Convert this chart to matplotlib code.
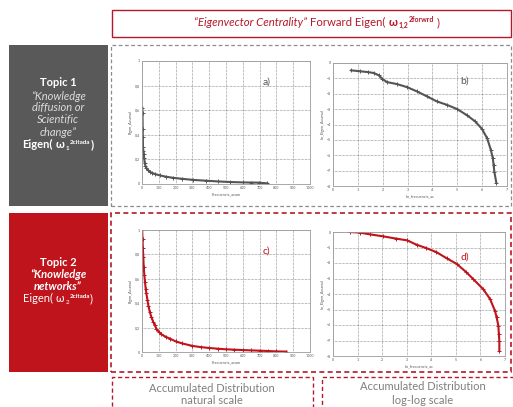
import matplotlib
matplotlib.use("Agg")
import matplotlib.pyplot as plt
from matplotlib.patches import Rectangle

# ── Data ────────────────────────────────────────────────────────────────────
a_x = [2, 3, 4, 5, 6, 8, 10, 13, 16, 20, 26, 34, 46, 60, 80, 106, 140, 186,
       240, 306, 380, 450, 526, 600, 650, 696, 746]
a_y = [0.62, 0.58, 0.45, 0.38, 0.30, 0.27, 0.24, 0.21, 0.17, 0.15, 0.13, 0.115,
       0.10, 0.09, 0.08, 0.07, 0.06, 0.05, 0.042, 0.033, 0.027, 0.021, 0.016,
       0.013, 0.012, 0.011, 0.005]

b_x = [0.74, 1.1, 1.4, 1.64, 1.84, 1.97, 2.17, 2.57, 2.98, 3.38, 3.78, 4.18,
       4.58, 5.0, 5.4, 5.72, 5.99, 6.2, 6.35, 6.43, 6.46, 6.49, 6.57]
b_y = [-0.48, -0.54, -0.59, -0.65, -0.8, -1.02, -1.24, -1.37, -1.57, -1.85,
       -2.17, -2.5, -2.72, -3.0, -3.41, -3.8, -4.28, -4.89, -5.65, -6.2, -6.63,
       -7.07, -7.78]

c_x = [1, 3, 5, 8, 10, 14, 18, 22, 26, 32, 38, 46, 55, 66, 76, 86, 100, 116,
       140, 166, 200, 240, 300, 350, 400, 450, 500, 550, 600, 650, 700, 750,
       800, 860]
c_y = [1.0, 0.93, 0.85, 0.78, 0.70, 0.63, 0.57, 0.52, 0.48, 0.43, 0.38, 0.33,
       0.29, 0.25, 0.22, 0.19, 0.165, 0.145, 0.125, 0.11, 0.087, 0.07, 0.05,
       0.04, 0.033, 0.027, 0.022, 0.019, 0.016, 0.013, 0.011, 0.008, 0.005,
       0.003]

d_x = [0.68, 1.09, 1.5, 2.04, 2.58, 3.02, 3.4, 3.8, 4.21, 4.62, 5.03, 5.43,
       5.7, 6.11, 6.39, 6.59, 6.66, 6.73, 6.75, 6.77, 6.77]
d_y = [0.0, -0.04, -0.15, -0.28, -0.43, -0.54, -0.82, -1.04, -1.3, -1.69,
       -2.05, -2.6, -3.03, -3.68, -4.32, -5.08, -5.51, -6.05, -6.6, -7.03, -7.68]

nat_xticks = list(range(0, 1001, 100))
nat_yticks = [0, 0.2, 0.4, 0.6, 0.8, 1]
nat_ylabels = ["0", "0,2", "0,4", "0,6", "0,8", "1"]
log_xticks = list(range(0, 8))
log_yticks = list(range(-8, 1))

# ── Layout helpers (pixel boxes -> figure fractions) ────────────────────────
W, H = 513, 407
GRAY_BOX = "#595959"
RED_BOX = "#c0141c"
RED_LINE = "#b5182a"
CAPTION = "#7f7f7f"

plt.rcParams["font.family"] = ["Lato", "DejaVu Sans"]

fig = plt.figure(figsize=(W / 100, H / 100), dpi=100)
renderer = fig.canvas.get_renderer()


def fx(x):
    return x / W


def fy(y):
    return 1 - y / H


def rect(x0, y0, x1, y1, **kw):
    r = Rectangle((fx(x0), fy(y1)), fx(x1) - fx(x0), fy(y0) - fy(y1),
                  transform=fig.transFigure, **kw)
    fig.add_artist(r)


def text(x, y, s, **kw):
    fig.text(fx(x), fy(y), s, ha=kw.pop("ha", "center"), va=kw.pop("va", "center"), **kw)


def runs(x, y, pieces, color):
    """Lay out text runs (text, size, raise_px, gap_px, kwargs) on baseline y, centred at x."""
    arts, widths = [], []
    for s, size, dy, gap, kw in pieces:
        t = fig.text(0, 0, s, fontsize=size, ha="left", va="baseline", color=color, **kw)
        arts.append(t)
        widths.append(t.get_window_extent(renderer).width + gap)
    cur = x - sum(widths) / 2
    for t, w, (s, size, dy, gap, kw) in zip(arts, widths, pieces):
        t.set_position((fx(cur), fy(y - dy)))
        cur += w


# title box
rect(112, 10, 511, 37, fill=False, edgecolor=RED_LINE, linewidth=1.0)
runs(317, 26, [
    ("\u201cEigenvector Centrality\u201d", 8.2, 0, 3, dict(style="italic")),
    ("Forward Eigen(", 8.2, 0, 3, {}),
    ("\u03c9", 8.2, 0, 1.5, dict(fontweight="bold")),
    ("1,2", 5, -2, 0, dict(fontweight="bold")),
    ("2forwrd", 5, 4, 3, dict(fontweight="bold")),
    (")", 8.2, 0, 0, {}),
], RED_LINE)

# topic boxes
rect(9, 45, 108, 206, facecolor=GRAY_BOX, edgecolor="none")
rect(111, 45, 511, 206, fill=False, edgecolor="#8c8c8c", linewidth=0.9,
     linestyle=(0, (3, 2)))
rect(9, 213, 108, 372, facecolor=RED_BOX, edgecolor="none")
rect(111, 213, 511, 372, fill=False, edgecolor=RED_LINE, linewidth=1.2,
     linestyle=(0, (3, 2)))

text(58, 83, "Topic 1", color="white", fontsize=8, fontweight="bold")
for yy, s in zip([96, 108, 120, 132],
                 ["\u201cKnowledge", "diffusion or", "Scientific", "change\u201d"]):
    text(58, yy, s, color="#dcdcdc", fontsize=8, style="italic")
bold = dict(fontweight="bold")
runs(58, 148, [
    ("Eigen(", 8, 0, 2.5, bold),
    ("\u03c9", 8, 0, 1.5, bold),
    ("1", 4.5, -2, 0.5, bold),
    ("2citada", 4.5, 3.5, 0, bold),
    (")", 8, 0, 0, bold),
], "white")

text(58, 262, "Topic 2", color="white", fontsize=8, fontweight="bold")
text(58, 274, "\u201cKnowledge", color="white", fontsize=8, style="italic", fontweight="bold")
text(58, 286, "networks\u201d", color="white", fontsize=8, style="italic", fontweight="bold")
runs(58, 302, [
    ("Eigen(", 8, 0, 2.5, {}),
    ("\u03c9", 8, 0, 1.5, {}),
    ("2", 4.5, -2, 0.5, {}),
    ("2citada", 4.5, 3.5, 0, bold),
    (")", 8, 0, 0, {}),
], "white")

# bottom boxes
rect(112, 377, 313, 410, fill=False, edgecolor=RED_LINE, linewidth=1.0,
     linestyle=(0, (3, 2)))
rect(322, 377, 516, 410, fill=False, edgecolor=RED_LINE, linewidth=1.0,
     linestyle=(0, (3, 2)))
text(212, 388, "Accumulated Distribution", color=CAPTION, fontsize=8)
text(212, 401, "natural scale", color=CAPTION, fontsize=8)
text(423, 386, "Accumulated Distribution", color=CAPTION, fontsize=8)
text(423, 400, "log-log scale", color=CAPTION, fontsize=8)


# ── Plots ───────────────────────────────────────────────────────────────────
def make_ax(x0, y0, x1, y1):
    ax = fig.add_axes([fx(x0), fy(y1), fx(x1) - fx(x0), fy(y0) - fy(y1)])
    for sp in ax.spines.values():
        sp.set_color("#9a9a9a")
        sp.set_linewidth(0.6)
    ax.tick_params(labelsize=2.6, length=0, pad=1.5, colors="#555555")
    ax.grid(True, color="#333333", linestyle=(0, (1, 1.5)), linewidth=0.4)
    return ax


def natural(ax, x, y, color, label):
    ax.plot(x, y, color=color, marker="+", markersize=2.8, linewidth=1.5,
            markeredgewidth=0.7)
    ax.set_xlim(0, 1000)
    ax.set_ylim(0, 1)
    ax.set_xticks(nat_xticks)
    ax.set_yticks(nat_yticks)
    ax.set_yticklabels(nat_ylabels)
    ax.set_xlabel("Frecuencia_acum", fontsize=2.8, labelpad=1.5, color="#555555")
    ax.set_ylabel("Eigen_Acumul", fontsize=2.8, labelpad=1.5, color="#555555")
    ax.text(0.72, 0.81, label, transform=ax.transAxes, fontsize=7.5, color=color)


def loglog(ax, x, y, color, label, lpos):
    ax.plot(x, y, color=color, marker="+", markersize=2.8, linewidth=1.5,
            markeredgewidth=0.7)
    ax.set_xlim(0, 7)
    ax.set_ylim(-8, 0)
    ax.set_xticks(log_xticks)
    ax.set_yticks(log_yticks)
    ax.set_xlabel("Ln_frecuencia_ac", fontsize=2.8, labelpad=1.5, color="#555555")
    ax.set_ylabel("Ln_Eigen_Acumul", fontsize=2.8, labelpad=1.5, color="#555555")
    ax.text(lpos[0], lpos[1], label, transform=ax.transAxes, fontsize=7.5, color=color)


natural(make_ax(142, 61, 310, 184), a_x, a_y, "#555555", "a)")
loglog(make_ax(333, 63, 507, 186), b_x, b_y, "#555555", "b)", (0.73, 0.83))
natural(make_ax(142, 230, 310, 352), c_x, c_y, RED_BOX, "c)")
loglog(make_ax(333, 232, 505, 356), d_x, d_y, RED_BOX, "d)", (0.74, 0.78))

fig.savefig("out.png", dpi=100)
